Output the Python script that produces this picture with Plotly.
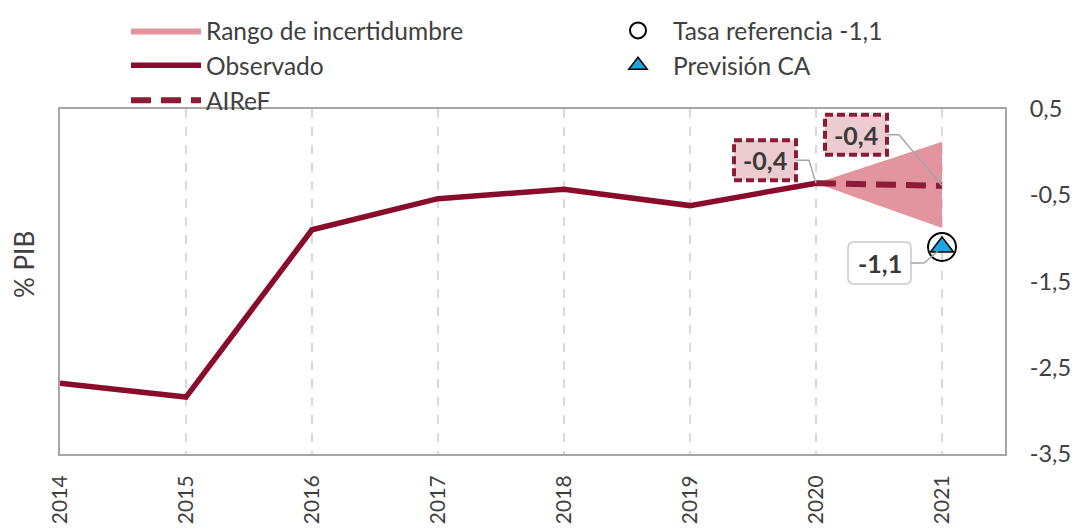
import plotly.graph_objects as go

# ---- data ----
years = [2014, 2015, 2016, 2017, 2018, 2019, 2020, 2021]
year_labels = ["2014", "2015", "2016", "2017", "2018", "2019", "2020", "2021"]
obs_years = [2014, 2015, 2016, 2017, 2018, 2019, 2020]
obs_values = [-2.68, -2.84, -0.90, -0.54, -0.43, -0.62, -0.36]
airef_years = [2020, 2021]
airef_values = [-0.36, -0.39]
range_years = [2020, 2021]
range_upper = [-0.36, 0.12]
range_lower = [-0.36, -0.88]
ref_year = [2021]
ref_value = [-1.1]
ca_year = [2021]
ca_value = [-1.1]
y_ticks = [0.5, -0.5, -1.5, -2.5, -3.5]
y_ticklabels = ["0,5", "-0,5", "-1,5", "-2,5", "-3,5"]

FONT = "Lato"
TXT = "#404040"
RED = "#8a0c2c"
RED2 = "#8e1b35"
PINK = "#e3959f"
# the page body adds an 8px offset, so the figure is 8px smaller than the window
W, H = 1072, 521
OFF = 8

def fmt(v):
    return ("%.1f" % v).replace(".", ",")

fig = go.Figure()

# uncertainty range polygon
fig.add_trace(go.Scatter(
    x=range_years + range_years[::-1],
    y=range_upper + range_lower[::-1],
    fill="toself", fillcolor=PINK, line=dict(width=0, color=PINK),
    mode="lines", name="Rango de incertidumbre", legend="legend", hoverinfo="skip"))

fig.add_trace(go.Scatter(
    x=obs_years, y=obs_values, mode="lines",
    line=dict(color=RED, width=5.5), name="Observado", legend="legend"))

fig.add_trace(go.Scatter(
    x=airef_years, y=airef_values, mode="lines",
    line=dict(color=RED2, width=6, dash="20px,10px"), name="AIReF", legend="legend"))

fig.add_trace(go.Scatter(
    x=ref_year, y=ref_value, mode="markers",
    marker=dict(symbol="circle", size=28, color="rgba(0,0,0,0)",
                line=dict(color="black", width=2)),
    name="Tasa referencia -1,1", legend="legend2"))

fig.add_trace(go.Scatter(
    x=ca_year, y=ca_value, mode="markers",
    marker=dict(symbol="triangle-up", size=20, color="#1aa6e0",
                line=dict(color="black", width=1.5)),
    name="Previsión CA", legend="legend2"))

# ---- labels ----
def label(x, y, text, box, conn, style):
    x0, x1, y0, y1 = box
    if style == "red":
        fig.add_shape(type="rect", xref="x", yref="y", xsizemode="pixel", ysizemode="pixel",
                      xanchor=x, yanchor=y, x0=x0, x1=x1, y0=y0, y1=y1,
                      fillcolor="#ecccd0", line=dict(color=RED2, width=4, dash="8px,4px"))
    else:
        r = 6
        path = (f"M{x0+r},{y1} L{x1-r},{y1} Q{x1},{y1} {x1},{y1-r} L{x1},{y0+r} "
                f"Q{x1},{y0} {x1-r},{y0} L{x0+r},{y0} Q{x0},{y0} {x0},{y0+r} "
                f"L{x0},{y1-r} Q{x0},{y1} {x0+r},{y1} Z")
        fig.add_shape(type="path", xref="x", yref="y", xsizemode="pixel", ysizemode="pixel",
                      xanchor=x, yanchor=y, path=path, fillcolor="white",
                      line=dict(color="#c8c8c8", width=1.5))
    path = "M" + " L".join(f"{a},{b}" for a, b in conn)
    fig.add_shape(type="path", xref="x", yref="y", xsizemode="pixel", ysizemode="pixel",
                  xanchor=x, yanchor=y, path=path, line=dict(color="#a6a6a6", width=1.5))
    fig.add_annotation(x=x, y=y, xref="x", yref="y", text=f"<b>{text}</b>", showarrow=False,
                       xshift=(x0 + x1) / 2, yshift=(y0 + y1) / 2,
                       font=dict(family=FONT, size=25, color="#3a3a3a"))

label(obs_years[-1], obs_values[-1], fmt(obs_values[-1]),
      (-82, -20, 3, 43), [(-20, 23), (-7, 23), (0, 0)], "red")
label(airef_years[-1], airef_values[-1], fmt(airef_values[-1]),
      (-117, -55, 31, 71), [(-55, 51), (-43, 51), (0, 0)], "red")
label(ca_year[0], ca_value[0], fmt(ca_value[0]),
      (-94, -31, -37, 5), [(-31, -16), (-18, -16), (-4, -4)], "gray")

# plot area in page pixels: x 60-1005, y 109-454
L, R, T, B = 60 - OFF, 1005 - OFF, 109 - OFF, 454 - OFF
PW, PH = R - L, B - T

fig.add_annotation(xref="x domain", yref="y domain",
                   x=(24 - OFF - L) / PW, y=1 - (265 - OFF - T) / PH,
                   xanchor="center", yanchor="middle", text="% PIB",
                   showarrow=False, textangle=-90,
                   font=dict(family=FONT, size=26, color=TXT))

fig.update_layout(
    width=W, height=H,
    margin=dict(l=L, r=W - R, t=T, b=H - B, autoexpand=False),
    paper_bgcolor="white", plot_bgcolor="white",
    font=dict(family=FONT, size=22, color=TXT),
    showlegend=True,
    legend=dict(xref="container", yref="container", x=(126 - OFF) / W, y=1 + 5 / H,
                xanchor="left", yanchor="top", orientation="v",
                font=dict(family=FONT, size=24.5, color=TXT),
                bgcolor="rgba(0,0,0,0)", traceorder="normal", itemwidth=70),
    legend2=dict(xref="container", yref="container", x=(603 - OFF) / W, y=1 + 5 / H,
                 xanchor="left", yanchor="top", orientation="v",
                 font=dict(family=FONT, size=24.5, color=TXT),
                 bgcolor="rgba(0,0,0,0)", traceorder="normal", itemwidth=60),
    xaxis=dict(type="linear", range=[2014, 2021.5], tickvals=years, ticktext=year_labels,
               tickangle=-90, showgrid=True, gridcolor="#d9d9d9", griddash="dash", gridwidth=1.5,
               showline=True, mirror=True, linecolor="#a6a6a6", linewidth=2, zeroline=False,
               ticks="", ticklabelstandoff=11, automargin=False,
               tickfont=dict(family=FONT, size=21, color=TXT)),
    yaxis=dict(range=[-3.5, 0.5], side="right", tickvals=y_ticks, ticktext=y_ticklabels,
               showgrid=False, zeroline=False, showline=True, mirror=True,
               linecolor="#a6a6a6", linewidth=2, ticks="", ticklabelstandoff=18,
               automargin=False, tickfont=dict(family=FONT, size=23.5, color=TXT)),
)

fig.write_html("out.html")
